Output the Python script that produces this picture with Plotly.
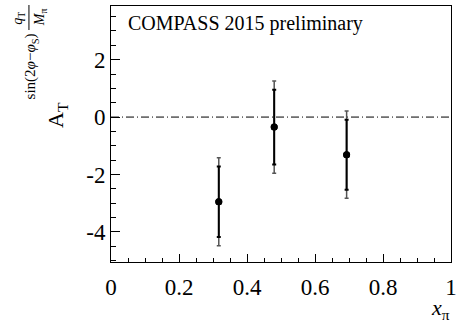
import plotly.graph_objects as go

# ---- data ----
x_pi = [0.317, 0.480, 0.693]
asym = [-2.95, -0.35, -1.31]
stat_err = [1.23, 1.30, 1.22]
tot_err = [1.53, 1.61, 1.52]
x_ticks = [0, 0.2, 0.4, 0.6, 0.8, 1]
x_ticklabels = ["0", "0.2", "0.4", "0.6", "0.8", "1"]
y_ticks = [-4, -2, 0, 2]
y_ticklabels = ["-4", "-2", "0", "2"]

W, H = 459, 323
L, R, T, B = 111, 457, 6, 262
FONT = "Liberation Serif, Times New Roman, DejaVu Serif, serif"


def px(x):
    return (x - L) / (R - L)


def py(y):
    return (B - y) / (B - T)


fig = go.Figure()

# total uncertainty (outer)
fig.add_trace(go.Scatter(
    x=x_pi, y=asym, mode="markers",
    marker=dict(size=7, color="black"),
    error_y=dict(type="data", array=tot_err, visible=True,
                 color="#555555", thickness=1.5, width=2),
    showlegend=False, cliponaxis=False,
))
# statistical uncertainty (inner)
fig.add_trace(go.Scatter(
    x=x_pi, y=asym, mode="markers",
    marker=dict(size=7, color="black"),
    error_y=dict(type="data", array=stat_err, visible=True,
                 color="black", thickness=2, width=2),
    showlegend=False, cliponaxis=False,
))

# zero line
fig.add_shape(type="line", xref="x", yref="y", x0=0, x1=1, y0=0, y1=0,
              line=dict(color="black", width=1, dash="8px,3px,1px,3px"),
              layer="below")

fig.update_xaxes(
    range=[0, 1], tickvals=x_ticks, ticktext=x_ticklabels,
    ticks="inside", ticklen=8, tickwidth=1, tickcolor="black",
    minor=dict(dtick=0.05, ticks="inside", ticklen=4, tickcolor="black", tickwidth=1),
    showline=True, linecolor="black", linewidth=1, mirror=True,
    showgrid=False, zeroline=False, ticklabeloverflow="allow",
    ticklabelstandoff=4,
    tickfont=dict(family=FONT, size=23, color="black"),
)
fig.update_yaxes(
    range=[-5.05, 3.87], tickvals=y_ticks, ticktext=y_ticklabels,
    ticks="inside", ticklen=9, tickwidth=1, tickcolor="black",
    minor=dict(dtick=0.5, ticks="inside", ticklen=5, tickcolor="black", tickwidth=1),
    showline=True, linecolor="black", linewidth=1, mirror=True,
    showgrid=False, zeroline=False, ticklabeloverflow="allow",
    tickfont=dict(family=FONT, size=23, color="black"),
)

ann = []
ann.append(dict(text="COMPASS 2015 preliminary", x=px(126), y=py(23),
                xanchor="left", yanchor="middle", font=dict(size=20)))
ann.append(dict(text="<i>x</i><sub>π</sub>", x=px(458), y=py(309),
                xanchor="right", yanchor="middle", font=dict(size=22)))
ann.append(dict(text="A<sub>T</sub>", x=px(56), y=py(115), textangle=-90,
                xanchor="center", yanchor="middle", font=dict(size=22)))
ann.append(dict(text="sin(2<i>φ</i>−<i>φ</i><sub>S</sub>)", x=px(30), y=py(66), textangle=-90,
                xanchor="center", yanchor="middle", font=dict(size=15)))
ann.append(dict(text="<i>q</i><sub>T</sub>", x=px(16), y=py(18), textangle=-90,
                xanchor="center", yanchor="middle", font=dict(size=14)))
ann.append(dict(text="<i>M</i><sub>π</sub>", x=px(39), y=py(17), textangle=-90,
                xanchor="center", yanchor="middle", font=dict(size=14)))
for a in ann:
    a.update(xref="paper", yref="paper", showarrow=False)
    a["font"].update(family=FONT, color="black")
fig.update_layout(annotations=ann)

fig.add_shape(type="line", xref="paper", yref="paper",
              x0=px(27.5), x1=px(27.5), y0=py(5), y1=py(30),
              line=dict(color="black", width=1))

fig.update_layout(
    width=W, height=H,
    margin=dict(l=L, r=W - R, t=T, b=H - B, pad=0),
    paper_bgcolor="white", plot_bgcolor="white",
    font=dict(family=FONT, color="black"),
)

fig.write_html("out.html")
